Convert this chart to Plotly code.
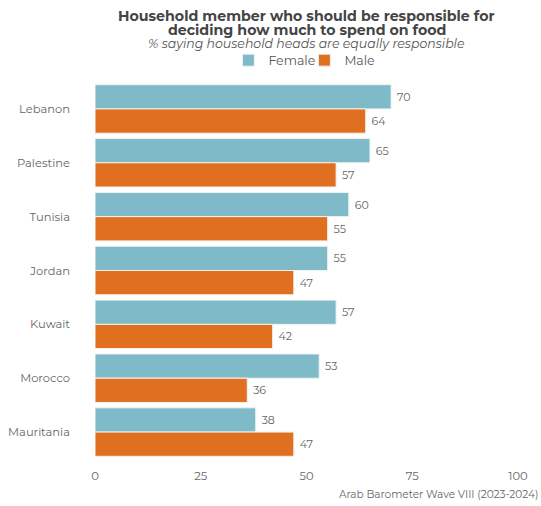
import plotly.graph_objects as go

countries = ["Lebanon", "Palestine", "Tunisia", "Jordan", "Kuwait", "Morocco", "Mauritania"]
female = [70, 65, 60, 55, 57, 53, 38]
male = [64, 57, 55, 47, 42, 36, 47]
x_ticks = [0, 25, 50, 75, 100]

FONT = "Montserrat, 'Open Sans', sans-serif"
TEXT_GRAY = "#666666"
PLOT_H = 506 - 82 - 47


def py(px):
    """Paper y coordinate for a pixel row measured from the top of the figure."""
    return 1 + (82 - px) / PLOT_H


fig = go.Figure()
fig.add_trace(go.Bar(
    name="Female", y=countries, x=female, orientation="h",
    marker=dict(color="#7FBAC8", line=dict(color="#f2f2f2", width=1)),
    text=female, texttemplate="\u00a0%{text}", textposition="outside", cliponaxis=False,
    textfont=dict(size=11, color=TEXT_GRAY, family=FONT),
))
fig.add_trace(go.Bar(
    name="Male", y=countries, x=male, orientation="h",
    marker=dict(color="#E0701F", line=dict(color="#f2f2f2", width=1)),
    text=male, texttemplate="\u00a0%{text}", textposition="outside", cliponaxis=False,
    textfont=dict(size=11, color=TEXT_GRAY, family=FONT),
))

fig.update_layout(
    width=541, height=506,
    margin=dict(l=95, r=23, t=82, b=47, autoexpand=False),
    barmode="group", bargap=0.1, bargroupgap=0,
    plot_bgcolor="white", paper_bgcolor="white",
    font=dict(family=FONT, color=TEXT_GRAY, size=11),
    legend=dict(orientation="h", x=0.495, xanchor="center", y=py(60.5), yanchor="middle",
                font=dict(size=12.5, color="#555555"), itemwidth=30, entrywidth=31,
                traceorder="normal"),
    xaxis=dict(range=[0, 100], tickvals=x_ticks, showgrid=False, zeroline=False,
               showline=False, ticklabelstandoff=8, automargin=False,
               tickfont=dict(size=11.5, color=TEXT_GRAY)),
    yaxis=dict(autorange="reversed", showgrid=False, showline=False, automargin=False,
               ticklabelstandoff=24, tickfont=dict(size=11.5, color=TEXT_GRAY)),
    annotations=[
        dict(text="<b>Household member who should be responsible for</b>",
             xref="paper", yref="paper", x=0.5, y=py(15.5), xanchor="center", yanchor="middle",
             showarrow=False, font=dict(size=14.2, color="#444444", family=FONT)),
        dict(text="<b>deciding how much to spend on food</b>",
             xref="paper", yref="paper", x=0.5, y=py(30), xanchor="center", yanchor="middle",
             showarrow=False, font=dict(size=14.2, color="#444444", family=FONT)),
        dict(text="<i>% saying household heads are equally responsible</i>",
             xref="paper", yref="paper", x=0.5, y=py(44), xanchor="center", yanchor="middle",
             showarrow=False, font=dict(size=12.5, color="#555555", family=FONT)),
        dict(text="Arab Barometer Wave VIII (2023-2024)",
             xref="paper", yref="paper", x=1.0, y=py(494), xanchor="right", yanchor="middle",
             xshift=22, showarrow=False, font=dict(size=10.5, color=TEXT_GRAY, family=FONT)),
    ],
)

fig.write_html("out.html")
